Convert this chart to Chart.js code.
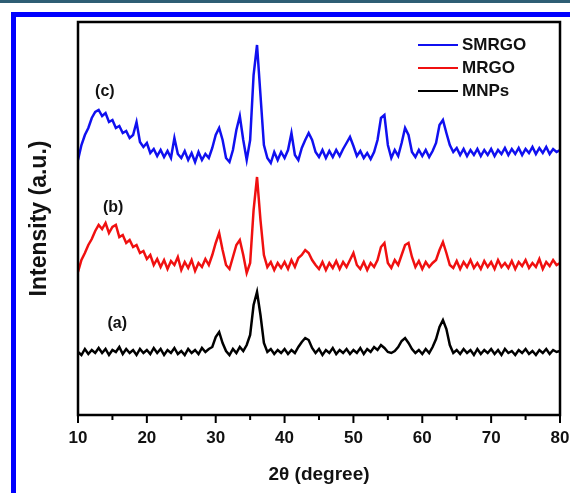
<!DOCTYPE html>
<html>
<head>
<meta charset="utf-8">
<script src="https://cdn.jsdelivr.net/npm/chart.js@4.4.1/dist/chart.umd.min.js"></script>
<style>
  html, body { margin: 0; padding: 0; background: #fff; }
  #wrap { position: relative; width: 570px; height: 493px; overflow: hidden; background: #fff; }
  .bar { position: absolute; }
  canvas { position: absolute; left: 0; top: 0; }
</style>
</head>
<body>
<div id="wrap">
  <div class="bar" style="left:0;top:0;width:570px;height:3px;background:#2e5e74"></div>
  <div class="bar" style="left:11px;top:12px;width:559px;height:5px;background:#0000ff"></div>
  <div class="bar" style="left:11px;top:12px;width:5px;height:481px;background:#0000ff"></div>
  <canvas id="xrd" width="570" height="493"></canvas>
</div>
<script>
/* XRD patterns, 2theta scan grid and intensities (a.u., offset stacked) */
const twoTheta = [
  10,10.5,11,11.5,12,12.5,13,13.5,14,14.5,15,15.5,16,16.5,17,17.5,18,18.5,19,19.5,
  20,20.5,21,21.5,22,22.5,23,23.5,24,24.5,25,25.5,26,26.5,27,27.5,28,28.5,29,29.5,
  30,30.5,31,31.5,32,32.5,33,33.5,34,34.5,35,35.5,36,36.5,37,37.5,38,38.5,39,39.5,
  40,40.5,41,41.5,42,42.5,43,43.5,44,44.5,45,45.5,46,46.5,47,47.5,48,48.5,49,49.5,
  50,50.5,51,51.5,52,52.5,53,53.5,54,54.5,55,55.5,56,56.5,57,57.5,58,58.5,59,59.5,
  60,60.5,61,61.5,62,62.5,63,63.5,64,64.5,65,65.5,66,66.5,67,67.5,68,68.5,69,69.5,
  70,70.5,71,71.5,72,72.5,73,73.5,74,74.5,75,75.5,76,76.5,77,77.5,78,78.5,79,79.5,
  80
];

const smrgo = [
  255,270,280,287,297,303,305,299,302,293,295,287,289,282,284,277,280,293,273,268,
  272,262,266,259,265,258,264,257,277,261,257,264,255,262,253,263,255,261,257,267,
  280,287,275,257,253,265,285,299,275,255,275,340,370,320,270,257,252,263,255,263,
  257,265,282,260,255,267,275,282,275,263,258,265,257,264,258,265,259,266,272,278,
  269,259,264,257,262,256,263,275,297,300,270,257,265,259,272,287,280,263,258,265,
  259,265,258,264,272,290,295,282,270,263,267,260,266,259,265,260,266,259,265,260,
  266,259,265,261,267,260,266,261,267,260,266,262,268,261,267,262,268,261,266,263,
  265
];

const mrgo = [
  143,155,162,170,176,184,190,186,192,182,188,190,178,180,172,175,168,170,162,164,
  156,160,150,156,148,155,146,154,150,158,145,153,147,155,144,152,148,156,150,160,
  172,182,165,150,146,158,170,175,160,142,152,205,238,195,160,148,153,145,152,147,
  153,146,155,148,157,160,165,162,155,150,146,153,145,152,147,154,146,153,148,155,
  162,150,146,153,145,152,148,155,168,172,152,147,155,150,160,170,172,158,148,154,
  146,153,148,152,155,165,173,162,150,147,154,146,153,148,155,147,152,146,154,148,
  153,146,155,148,152,147,154,146,153,149,155,147,152,148,156,146,153,149,155,150,
  152
];

const mnps = [
  63,60,66,61,65,62,67,62,66,60,65,63,68,61,66,62,65,60,66,62,
  65,61,67,62,66,60,65,62,67,61,64,60,66,62,65,61,67,63,66,68,
  78,83,72,64,60,66,62,68,64,70,80,110,123,100,72,63,66,61,65,62,
  66,61,65,62,68,73,77,75,67,62,66,60,65,62,67,61,65,62,66,61,
  65,62,67,61,66,63,68,65,70,67,63,62,64,68,74,77,72,66,62,65,
  61,66,62,68,76,88,95,86,70,62,65,61,66,62,65,60,66,61,65,62,
  66,61,65,60,66,62,64,60,65,62,66,61,64,60,65,62,66,61,65,63,
  64
];

const seriesNames = ['SMRGO', 'MRGO', 'MNPs'];
const curveTags = ['(c)', '(b)', '(a)'];
const xMajor = [10, 20, 30, 40, 50, 60, 70, 80];
const xMinor = [15, 25, 35, 45, 55, 65, 75];

function pts(vals) {
  return vals.map((v, i) => ({ x: twoTheta[i], y: v }));
}

const FONT = "'Liberation Sans', Arial, sans-serif";

/* frame, outward ticks, legend and curve tags */
const decorPlugin = {
  id: 'decor',
  afterDatasetsDraw(chart) {
    const { ctx, chartArea: a, scales } = chart;
    const xs = scales.x, ys = scales.y;
    ctx.save();
    ctx.strokeStyle = '#000';
    ctx.lineWidth = 2.5;
    ctx.strokeRect(a.left, a.top, a.right - a.left, a.bottom - a.top);

    ctx.lineWidth = 2;
    ctx.beginPath();
    xMajor.forEach(v => {
      const px = xs.getPixelForValue(v);
      ctx.moveTo(px, a.bottom); ctx.lineTo(px, a.bottom + 8);
    });
    xMinor.forEach(v => {
      const px = xs.getPixelForValue(v);
      ctx.moveTo(px, a.bottom); ctx.lineTo(px, a.bottom + 5);
    });
    ctx.stroke();

    // legend (top right)
    ctx.font = 'bold 17px ' + FONT;
    ctx.textBaseline = 'middle';
    ctx.textAlign = 'left';
    chart.data.datasets.forEach((ds, i) => {
      const ly = a.top + 23 + i * 23;
      ctx.strokeStyle = ds.borderColor;
      ctx.lineWidth = 2;
      ctx.beginPath();
      ctx.moveTo(418, ly); ctx.lineTo(458, ly);
      ctx.stroke();
      ctx.fillStyle = '#111';
      ctx.fillText(ds.label, 462, ly);
    });

    // curve tags, placed in data space
    const tagPos = [[13.9, 323], [15.1, 207], [15.7, 91]];
    ctx.font = 'bold 16px ' + FONT;
    ctx.textAlign = 'center';
    curveTags.forEach((t, i) => {
      ctx.fillText(t, xs.getPixelForValue(tagPos[i][0]), ys.getPixelForValue(tagPos[i][1]));
    });
    ctx.restore();
  }
};

new Chart(document.getElementById('xrd'), {
  type: 'line',
  data: {
    datasets: [
      { label: seriesNames[0], data: pts(smrgo), borderColor: '#1010f0' },
      { label: seriesNames[1], data: pts(mrgo), borderColor: '#f01010' },
      { label: seriesNames[2], data: pts(mnps), borderColor: '#000000' }
    ]
  },
  options: {
    responsive: false,
    animation: false,
    layout: { padding: { top: 22, right: 10, bottom: 0, left: 0 } },
    elements: {
      line: { borderWidth: 2.5, tension: 0 },
      point: { radius: 0 }
    },
    plugins: { legend: { display: false }, tooltip: { enabled: false } },
    scales: {
      x: {
        type: 'linear',
        min: 10, max: 80,
        grid: { display: false, drawTicks: false },
        border: { display: false },
        ticks: { stepSize: 10, padding: 13, color: '#111', font: { family: FONT, size: 17, weight: 'bold' } },
        title: { display: true, text: '2θ (degree)', color: '#111', padding: { top: 4, bottom: 7 },
                 font: { family: FONT, size: 19, weight: 'bold' } },
        afterFit(s) { s.height = 78; s.paddingLeft = 0; s.paddingRight = 0; }
      },
      y: {
        min: 0, max: 393,
        grid: { display: false, drawTicks: false },
        border: { display: false },
        ticks: { display: false },
        title: { display: true, text: 'Intensity (a.u.)', color: '#111', padding: { top: 26, bottom: 4 },
                 font: { family: FONT, size: 23, weight: 'bold' } },
        afterFit(s) { s.width = 78; }
      }
    }
  },
  plugins: [decorPlugin]
});
</script>
</body>
</html>
